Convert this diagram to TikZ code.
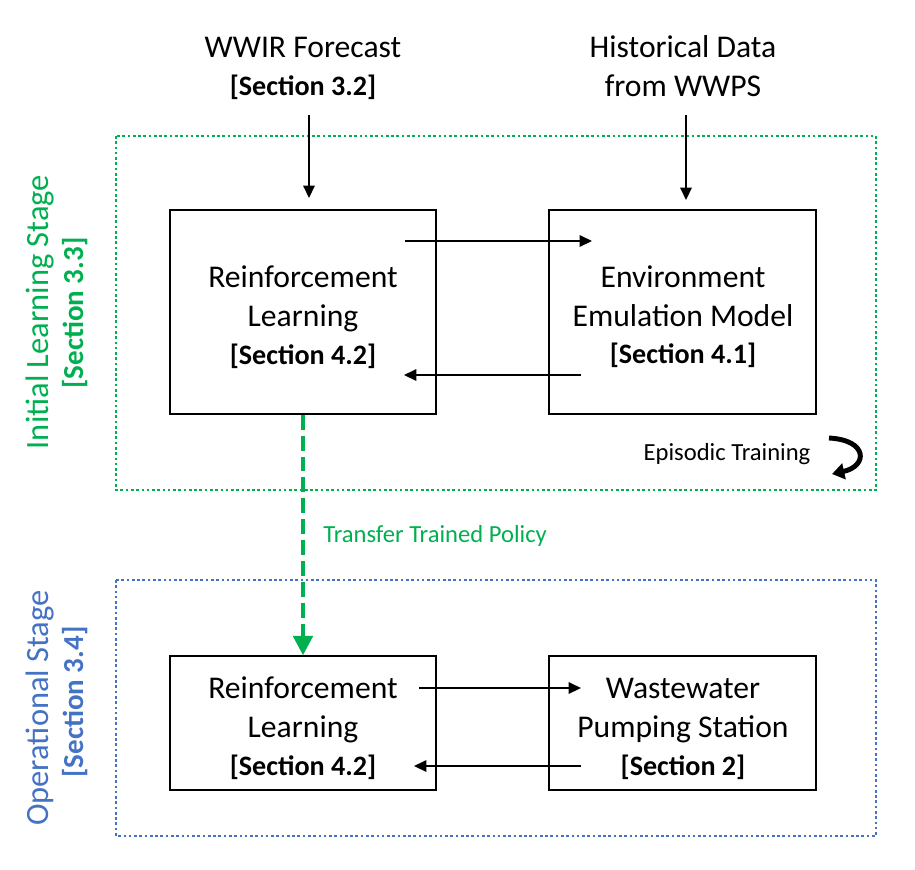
\documentclass[tikz,border=0pt]{standalone}
\usepackage{fontspec}
\setmainfont{Carlito}
\usetikzlibrary{arrows.meta}
\definecolor{ogreen}{RGB}{0,176,80}
\definecolor{oblue}{RGB}{68,114,196}
\begin{document}
\begin{tikzpicture}[x=0.02cm,y=-0.02cm,
  box/.style={draw, line width=0.85pt, inner sep=0pt},
  main/.style={font=\fontsize{18}{22}\selectfont, anchor=base, inner sep=0pt},
  sec/.style={font=\fontsize{16}{19}\selectfont\bfseries, anchor=base, inner sep=0pt},
  small/.style={font=\fontsize{14}{17}\selectfont, anchor=base, inner sep=0pt},
  arr/.style={line width=0.85pt, -{Triangle[length=7pt,width=6.5pt]}},
  frame/.style={line width=1.6pt, dash pattern=on 1.5pt off 1.5pt},
  lbl/.style={font=\fontsize{18.5}{22}\selectfont, anchor=base, inner sep=0pt, rotate=90},
  lblsec/.style={font=\fontsize{16.5}{19}\selectfont\bfseries, anchor=base, inner sep=0pt, rotate=90}]
\useasboundingbox (0,0) rectangle (915,869);

% frames
\draw[frame, ogreen] (116,136) rectangle (876,490);
\draw[frame, oblue] (116,580) rectangle (876,836);

% stage labels
\node[lbl, text=ogreen] (initlbl) at (48,312) {Initial Learning Stage};
\node[lblsec, text=ogreen] (initsec) at (83,313) {[Section 3.3]};
\node[lbl, text=oblue] (oplbl) at (48,708) {Operational Stage};
\node[lblsec, text=oblue] (opsec) at (83,702) {[Section 3.4]};

% top inputs
\node[main] (wwir) at (303,57) {WWIR Forecast};
\node[sec] (wwirsec) at (303,95) {[Section 3.2]};
\node[main] (hist) at (683,57) {Historical Data};
\node[main] (histb) at (683,96) {from WWPS};

% boxes
\node[box, minimum width=5.32cm, minimum height=4.08cm] (rl) at (303,312) {};
\node[box, minimum width=5.34cm, minimum height=4.08cm] (env) at (682.5,312) {};
\node[box, minimum width=5.32cm, minimum height=2.68cm] (rlb) at (303,723) {};
\node[box, minimum width=5.34cm, minimum height=2.68cm] (wwps) at (682.5,723) {};

% box texts
\node[main] (rl1) at (303,287) {Reinforcement};
\node[main] (rl2) at (303,326) {Learning};
\node[sec] (rl3) at (303,364) {[Section 4.2]};
\node[main] (env1) at (683,287) {Environment};
\node[main] (env2) at (683,326) {Emulation Model};
\node[sec] (env3) at (683,363) {[Section 4.1]};
\node[main] (rlb1) at (303,698) {Reinforcement};
\node[main] (rlb2) at (303,737) {Learning};
\node[sec] (rlb3) at (303,775) {[Section 4.2]};
\node[main] (ww1) at (683,698) {Wastewater};
\node[main] (ww2) at (683,737) {Pumping Station};
\node[sec] (ww3) at (683,775) {[Section 2]};

% small labels
\node[small] (epi) at (727,460) {Episodic Training};
\node[small, anchor=base west, text=ogreen] (tp) at (323,542) {Transfer Trained Policy};

% connector coordinates
\coordinate (a1s) at (309,115); \coordinate (a1e) at (309,198);
\coordinate (a2s) at (686,115); \coordinate (a2e) at (686,200);
\coordinate (a3s) at (405,241); \coordinate (a3e) at (592,241);
\coordinate (a4s) at (581,375); \coordinate (a4e) at (404,375);
\coordinate (a5s) at (419,688); \coordinate (a5e) at (581,688);
\coordinate (a6s) at (581,766); \coordinate (a6e) at (414,766);
\coordinate (c1) at (829,438); \coordinate (c2) at (832,474);

\draw[arr] (a1s) -- (a1e);
\draw[arr] (a2s) -- (a2e);
\draw[arr] (a3s) -- (a3e);
\draw[arr] (a4s) -- (a4e);
\draw[arr] (a5s) -- (a5e);
\draw[arr] (a6s) -- (a6e);

% transfer
\draw[ogreen, line width=2.3pt, dash pattern=on 8.5pt off 3.4pt, -{Triangle[length=11pt,width=11pt]}] (rl.south) -- (rlb.north);

% episodic curved arrow
\draw[line width=2.8pt, -{Triangle[length=7pt,width=9pt]}] (c1) .. controls (868,440) and (868,466) .. (c2);
\end{tikzpicture}
\end{document}
